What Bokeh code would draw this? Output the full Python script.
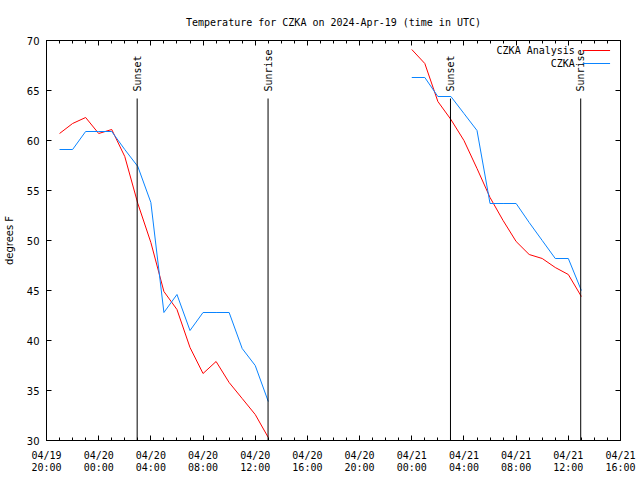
import numpy as np
import pandas as pd
from bokeh.plotting import figure
from bokeh.models import (FixedTicker, DatetimeTickFormatter, DatetimeAxis, LinearAxis,
                          CustomJSTickFormatter, Label, Range1d)
from bokeh.core.properties import value
from bokeh.embed import file_html
from bokeh.resources import INLINE

# ---------------- data ----------------
title = "Temperature for CZKA on 2024-Apr-19 (time in UTC)"

analysis_times = ["2024-04-19 21:00", "2024-04-19 22:00", "2024-04-19 23:00", "2024-04-20 00:00",
                  "2024-04-20 01:00", "2024-04-20 02:00", "2024-04-20 03:00", "2024-04-20 04:00",
                  "2024-04-20 05:00", "2024-04-20 06:00", "2024-04-20 07:00", "2024-04-20 08:00",
                  "2024-04-20 09:00", "2024-04-20 10:00", "2024-04-20 11:00", "2024-04-20 12:00",
                  "2024-04-20 13:00", "2024-04-20 18:00",
                  "2024-04-21 00:00", "2024-04-21 01:00", "2024-04-21 02:00", "2024-04-21 03:00",
                  "2024-04-21 04:00", "2024-04-21 05:00", "2024-04-21 06:00", "2024-04-21 07:00",
                  "2024-04-21 08:00", "2024-04-21 09:00", "2024-04-21 10:00", "2024-04-21 11:00",
                  "2024-04-21 12:00", "2024-04-21 13:00"]
analysis_temps = [60.7, 61.7, 62.3, 60.7, 61.1, 58.4, 53.7, 49.8, 44.9, 43.1, 39.3, 36.7,
                  37.9, 35.8, 34.2, 32.6, 30.3, None,
                  69.1, 67.7, 63.9, 62.1, 60.0, 57.2, 54.3, 52.0, 49.9, 48.6, 48.2, 47.3,
                  46.6, 44.4]

obs_times = analysis_times
obs_temps = [59.1, 59.1, 60.9, 60.9, 60.9, 59.1, 57.4, 53.8, 42.8, 44.6, 41.0, 42.8,
             42.8, 42.8, 39.2, 37.5, 33.9, None,
             66.3, 66.3, 64.4, 64.4, 62.7, 61.0, 53.7, 53.7, 53.7, 51.8, 50.0, 48.2,
             48.2, 45.0]

sun_times = ["2024-04-20 02:57", "2024-04-20 12:59", "2024-04-21 02:58", "2024-04-21 12:57"]
sun_labels = ["Sunset", "Sunrise", "Sunset", "Sunrise"]

x_start, x_end = "2024-04-19 20:00", "2024-04-21 16:00"
major_tick_times = pd.date_range(x_start, x_end, freq="4h")
minor_tick_times = pd.date_range(x_start, x_end, freq="1h")
y_ticks = [30, 35, 40, 45, 50, 55, 60, 65, 70]

series_names = ["CZKA Analysis", "CZKA"]
series_colors = ["#ff0000", "#0a84ff"]

# ---------------- helpers ----------------
def ms(t):
    return pd.Timestamp(t).value / 1e6

MONO = "DejaVu Sans Mono"
SANS = "DejaVu Sans"

p = figure(width=632, height=472, frame_width=574, frame_height=400,
           x_axis_type="datetime",
           x_range=Range1d(pd.Timestamp(x_start), pd.Timestamp(x_end)),
           y_range=Range1d(30, 70),
           output_backend="svg", toolbar_location=None,
           min_border_left=39, min_border_right=19, min_border_top=40, min_border_bottom=32,
           background_fill_color="white", border_fill_color="white")

p.title.text = title
p.title.align = "center"
p.title.text_font = MONO
p.title.text_font_size = "10px"
p.title.text_font_style = "normal"
p.title.text_color = "black"
p.title.standoff = 25

p.xgrid.visible = False
p.ygrid.visible = False
p.outline_line_color = "black"
p.outline_line_alpha = 1.0
p.outline_line_width = 1

xticker = FixedTicker(ticks=[ms(t) for t in major_tick_times],
                      minor_ticks=[ms(t) for t in minor_tick_times])
yticker = FixedTicker(ticks=y_ticks, minor_ticks=[])
fmt = "%m/%d\n%H:%M"
xfmt = DatetimeTickFormatter(hours=fmt, days=fmt, hourmin=fmt, minutes=fmt, months=fmt)

def style_axis(ax):
    ax.major_tick_in = 5
    ax.major_tick_out = 0
    ax.minor_tick_in = 3
    ax.minor_tick_out = 0
    ax.axis_line_color = "black"
    ax.major_tick_line_color = "black"
    ax.minor_tick_line_color = "black"

xa = p.xaxis[0]
xa.ticker = xticker
xa.formatter = xfmt
xa.major_label_text_font = MONO
xa.major_label_text_font_size = "10px"
xa.major_label_text_color = "black"
xa.major_label_text_line_height = 1.1
xa.major_label_standoff = 9
style_axis(xa)

ya = p.yaxis[0]
ya.ticker = yticker
ya.major_label_text_font = SANS
ya.major_label_text_font_size = "10px"
ya.major_label_text_color = "black"
ya.major_label_standoff = 7
ya.axis_label = "degrees F"
ya.axis_label_text_font = SANS
ya.axis_label_text_font_size = "10px"
ya.axis_label_text_font_style = "normal"
ya.axis_label_text_color = "black"
ya.axis_label_standoff = 9
style_axis(ya)

empty = CustomJSTickFormatter(code="return ''")
top = DatetimeAxis(ticker=xticker, formatter=empty)
style_axis(top)
p.add_layout(top, "above")
right = LinearAxis(ticker=yticker, formatter=empty)
style_axis(right)
p.add_layout(right, "right")

# ---------------- data lines ----------------
def series(times, temps):
    x = pd.to_datetime(times)
    y = np.array([np.nan if v is None else v for v in temps], dtype=float)
    return x, y

ax_, ay_ = series(analysis_times, analysis_temps)
bx_, by_ = series(obs_times, obs_temps)
p.line(ax_, ay_, line_color=series_colors[0], line_width=1)
p.line(bx_, by_, line_color=series_colors[1], line_width=1)

# ---------------- sunrise / sunset markers ----------------
LINE_TOP = 64.2
TEXT_BASE = 64.9
st = pd.to_datetime(sun_times)
p.segment(x0=st, y0=[30] * len(st), x1=st, y1=[LINE_TOP] * len(st),
          line_color="black", line_width=1)
p.text(x=st, y=[TEXT_BASE] * len(st), text=sun_labels, angle=np.pi / 2,
       text_align="left", text_baseline="middle",
       text_font=value(MONO), text_font_size="10px", text_color="black")

# ---------------- legend (gnuplot style: text then sample) ----------------
leg_text_x = pd.Timestamp("2024-04-21 12:30")
leg_line_x0 = pd.Timestamp("2024-04-21 13:06")
leg_line_x1 = pd.Timestamp("2024-04-21 15:12")
leg_y = [69.0, 67.7]
for name, col, yy in zip(series_names, series_colors, leg_y):
    p.add_layout(Label(x=leg_text_x, y=yy, text=name, text_align="right",
                       text_baseline="middle", text_font=MONO, text_font_size="10px",
                       text_color="black"))
    p.segment(x0=[leg_line_x0], y0=[yy], x1=[leg_line_x1], y1=[yy],
              line_color=col, line_width=1)

open("out.html", "w").write(file_html(p, INLINE))
